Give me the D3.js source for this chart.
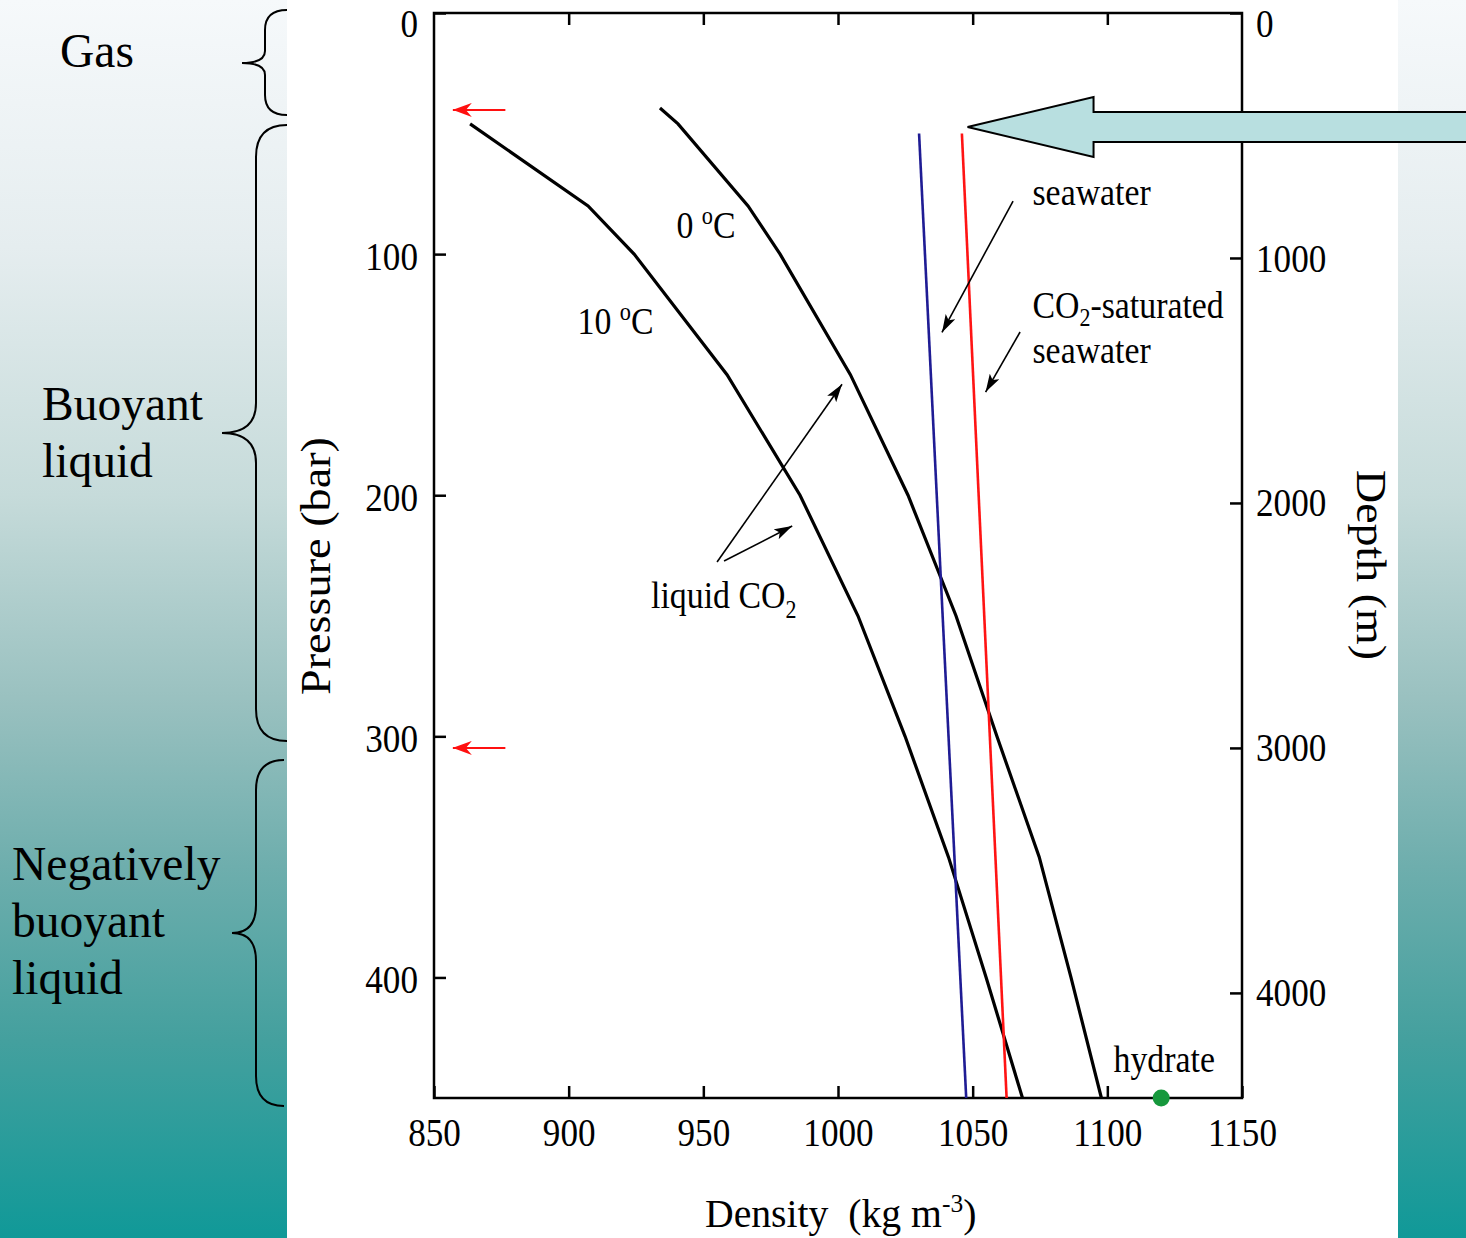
<!DOCTYPE html>
<html><head><meta charset="utf-8">
<script src="https://cdn.jsdelivr.net/npm/d3@7"></script>
<style>
body{margin:0;background:#fff}
svg{display:block}
text{font-family:"Liberation Serif","Times New Roman",serif;fill:#000}
</style>
</head><body><svg id="c" width="1466" height="1238"></svg>
<script>
// ---------- data ----------
const densityTicks = [850, 900, 950, 1000, 1050, 1100, 1150];
const topTicks = [900, 950, 1000, 1050, 1100];
const pressureTicks = [0, 100, 200, 300, 400];
const depthTicks = [0, 1000, 2000, 3000, 4000];

const co2_10C_pressure = [46, 80, 100, 150, 200, 250, 300, 350, 400, 450];
const co2_10C_density  = [863.4, 907.2, 924.3, 958.8, 985.9, 1007.4, 1024.9, 1041, 1055, 1068.5];
const co2_0C_pressure  = [39.4, 46, 80, 100, 150, 200, 250, 300, 350, 400, 450];
const co2_0C_density   = [933.9, 940.6, 966.6, 978.5, 1004.6, 1026, 1043.8, 1059, 1074.7, 1086.5, 1097.8];
const seawater_pressure = [50, 450];
const seawater_density  = [1030.1, 1047.6];
const co2sat_pressure   = [50, 450];
const co2sat_density    = [1046, 1062.6];
const hydrate_point     = [1120, 450];           // density, pressure
const marker_pressures  = [40.2, 304.8];         // red arrows at left axis
const marker_density    = [876.5, 857];          // from, to

const phaseLabels = [["Gas"], ["Buoyant", "liquid"], ["Negatively", "buoyant", "liquid"]];

// annotation arrows [fromDensity, fromPressure, toDensity, toPressure]
const annotArrows = [
  [1065, 78, 1038.6, 132.5],
  [1067.6, 132.3, 1054.8, 157.2],
  [955.1, 227.7, 1001.5, 154],
  [957.7, 227.3, 983, 212.8]
];

// ---------- setup ----------
const svg = d3.select("#c");
const W = 1466, H = 1238;
const defs = svg.append("defs");
const grad = defs.append("linearGradient").attr("id", "bg").attr("x1", 0).attr("y1", 0).attr("x2", 0).attr("y2", 1);
[[0, "#f6f9fb"], [0.2, "#e5edef"], [0.4, "#c6dbda"], [0.57, "#98c0bf"], [0.7, "#6eaead"], [0.84, "#44a09e"], [1, "#109998"]]
  .forEach(([o, c]) => grad.append("stop").attr("offset", o).attr("stop-color", c));

defs.append("marker").attr("id", "ah").attr("markerUnits", "userSpaceOnUse")
  .attr("viewBox", "0 0 18 11").attr("refX", 18).attr("refY", 5.5)
  .attr("markerWidth", 18).attr("markerHeight", 11).attr("orient", "auto")
  .append("path").attr("d", "M0,0 L18,5.5 L0,11 L4,5.5 Z").attr("fill", "#000");
defs.append("marker").attr("id", "ahr").attr("markerUnits", "userSpaceOnUse")
  .attr("viewBox", "0 0 19 14").attr("refX", 19).attr("refY", 7)
  .attr("markerWidth", 19).attr("markerHeight", 14).attr("orient", "auto")
  .append("path").attr("d", "M0,0 L19,7 L0,14 L6,7 Z").attr("fill", "#ff1010");

svg.append("rect").attr("x", 0).attr("y", 0).attr("width", W).attr("height", H).attr("fill", "url(#bg)");
svg.append("rect").attr("x", 287).attr("y", 0).attr("width", 1398 - 287).attr("height", H).attr("fill", "#fff");

// ---------- braces & phase labels ----------
function brace(xEnd, xSpine, xTip, yTop, yMid, yBot, rEnd, rTip) {
  return `M${xEnd},${yTop} Q${xSpine},${yTop} ${xSpine},${yTop + rEnd} L${xSpine},${yMid - rTip} ` +
         `Q${xSpine},${yMid} ${xTip},${yMid} Q${xSpine},${yMid} ${xSpine},${yMid + rTip} ` +
         `L${xSpine},${yBot - rEnd} Q${xSpine},${yBot} ${xEnd},${yBot}`;
}
const braces = [
  [287, 265, 242, 10, 63, 115, 20, 12],
  [287, 256, 222, 125, 433, 741, 32, 30],
  [284, 256, 232, 760, 933, 1106, 30, 28]
];
svg.selectAll("path.brace").data(braces).join("path").attr("class", "brace")
  .attr("d", d => brace(...d)).attr("fill", "none").attr("stroke", "#000").attr("stroke-width", 2);

const labelPos = [[60, [67]], [42, [420, 477]], [12, [880, 937, 994]]];
phaseLabels.forEach((lines, i) => {
  lines.forEach((s, j) => {
    svg.append("text").attr("x", labelPos[i][0]).attr("y", labelPos[i][1][j])
      .attr("font-size", 47.5).text(s);
  });
});

// ---------- chart ----------
const x = d3.scaleLinear([850, 1150], [434, 1242]);
const y = d3.scaleLinear([0, 450], [13, 1098]);
const yd = d3.scaleLinear([0, 4429], [13, 1098]);
const fmt = d3.format("d");

const TICKFONT = 39.5, SQ = 0.89;
function squeeze(sel, f) {
  sel.each(function () {
    const L = this.getComputedTextLength();
    d3.select(this).attr("textLength", L * f).attr("lengthAdjust", "spacingAndGlyphs");
  });
}
function styleAxis(g, dy) {
  g.select(".domain").remove();
  g.selectAll(".tick line").attr("stroke", "#000").attr("stroke-width", 2.5);
  const t = g.selectAll(".tick text").attr("font-size", TICKFONT)
    .attr("font-family", '"Liberation Serif","Times New Roman",serif').attr("fill", "#000");
  if (dy) {
    t.attr("dy", dy);
    t.filter(d => d === 0).attr("dy", 23);   // top "0" labels sit a little lower, as in the original
  }
  squeeze(t, SQ);
}

svg.append("g").attr("transform", "translate(434,0)")
  .call(d3.axisLeft(y).tickValues(pressureTicks).tickFormat(fmt).tickSize(-12).tickSizeOuter(0).tickPadding(16))
  .call(g => styleAxis(g, "0.38em"));
svg.append("g").attr("transform", "translate(1242,0)")
  .call(d3.axisRight(yd).tickValues(depthTicks).tickFormat(fmt).tickSize(-12).tickSizeOuter(0).tickPadding(14))
  .call(g => styleAxis(g, "0.33em"));
svg.append("g").attr("transform", "translate(0,13)")
  .call(d3.axisTop(x).tickValues(topTicks).tickSize(-12).tickSizeOuter(0).tickFormat(""))
  .call(g => styleAxis(g, null));
svg.append("g").attr("transform", "translate(0,1098)")
  .call(d3.axisBottom(x).tickValues(densityTicks).tickFormat(fmt).tickSize(-12).tickSizeOuter(0).tickPadding(20))
  .call(g => styleAxis(g, null));

svg.append("rect").attr("x", x(850)).attr("y", y(0)).attr("width", x(1150) - x(850)).attr("height", y(450) - y(0))
  .attr("fill", "none").attr("stroke", "#000").attr("stroke-width", 2.5);

// lines
const line = d3.line().x(d => x(d[0])).y(d => y(d[1]));
const zip = (a, b) => a.map((v, i) => [v, b[i]]);
const series = [
  [zip(co2_10C_density, co2_10C_pressure), "#000", 3.2],
  [zip(co2_0C_density, co2_0C_pressure), "#000", 3.2],
  [zip(seawater_density, seawater_pressure), "#1f1c94", 2.6],
  [zip(co2sat_density, co2sat_pressure), "#ff1414", 2.6]
];
svg.selectAll("path.series").data(series).join("path").attr("class", "series")
  .attr("d", d => line(d[0])).attr("fill", "none").attr("stroke", d => d[1]).attr("stroke-width", d => d[2]);

// hydrate
svg.append("circle").attr("cx", x(hydrate_point[0])).attr("cy", y(hydrate_point[1])).attr("r", 8.5).attr("fill", "#16983c");

// annotation arrows
svg.selectAll("line.ann").data(annotArrows).join("line").attr("class", "ann")
  .attr("x1", d => x(d[0])).attr("y1", d => y(d[1])).attr("x2", d => x(d[2])).attr("y2", d => y(d[3]))
  .attr("stroke", "#000").attr("stroke-width", 1.6).attr("marker-end", "url(#ah)");

// red pressure markers
svg.selectAll("line.mk").data(marker_pressures).join("line").attr("class", "mk")
  .attr("x1", x(marker_density[0])).attr("x2", x(marker_density[1]))
  .attr("y1", d => y(d)).attr("y2", d => y(d))
  .attr("stroke", "#ff1010").attr("stroke-width", 2).attr("marker-end", "url(#ahr)");

// ---------- text labels (squeezed serif like original) ----------
function label(dx, py, size, sx, build) {
  const g = svg.append("g").attr("transform", `translate(${x(dx)},${y(py)}) scale(${sx},1)`);
  const t = g.append("text").attr("font-size", size).style("white-space", "pre");
  build(t, size);
  return t;
}
function degC(num) {
  return (t, s) => {
    t.append("tspan").text(num + " ");
    t.append("tspan").attr("font-size", s * 0.66).attr("dy", -s * 0.36).text("o");
    t.append("tspan").attr("dy", s * 0.36).text("C");
  };
}
label(940, 93.3, 38, SQ, degC("0"));
label(903.3, 133.1, 38, SQ, degC("10"));
label(1072.2, 79.6, 38, SQ, t => t.text("seawater"));
label(1072.2, 126.5, 38, SQ, (t, s) => {
  t.append("tspan").text("CO");
  t.append("tspan").attr("font-size", s * 0.65).attr("dy", s * 0.22).text("2");
  t.append("tspan").attr("dy", -s * 0.22).text("-saturated");
});
label(1072.2, 145.3, 38, SQ, t => t.text("seawater"));
label(930.6, 246.8, 38, SQ, (t, s) => {
  t.append("tspan").text("liquid CO");
  t.append("tspan").attr("font-size", s * 0.65).attr("dy", s * 0.25).text("2");
});
label(1102.3, 439.2, 38, SQ, t => t.text("hydrate"));

// axis titles
const dens = svg.append("g").attr("transform", `translate(705,1227) scale(0.98,1)`)
  .append("text").attr("font-size", 40.5).style("white-space", "pre");
dens.append("tspan").text("Density  (kg m");
dens.append("tspan").attr("font-size", 26).attr("dy", -15).text("-3");
dens.append("tspan").attr("dy", 15).text(")");

svg.append("text").attr("transform", "translate(330,566) rotate(-90)").attr("text-anchor", "middle")
  .attr("font-size", 43).attr("textLength", 258).attr("lengthAdjust", "spacingAndGlyphs").text("Pressure (bar)");
svg.append("text").attr("transform", "translate(1357,565) rotate(90)").attr("text-anchor", "middle")
  .attr("font-size", 43).attr("textLength", 190).attr("lengthAdjust", "spacingAndGlyphs").text("Depth (m)");

// ---------- big pointing arrow ----------
const tipX = x(1048.1), tipY = y(47.3);
const arrowPts = [[0, 0], [126, -30], [126, -15], [W - tipX + 10, -15], [W - tipX + 10, 15], [126, 15], [126, 30]];
svg.append("polygon").attr("points", arrowPts.map(p => [tipX + p[0], tipY + p[1]].join(",")).join(" "))
  .attr("fill", "#b8dfe0").attr("stroke", "#000").attr("stroke-width", 2).attr("stroke-linejoin", "miter");
</script>
</body></html>
